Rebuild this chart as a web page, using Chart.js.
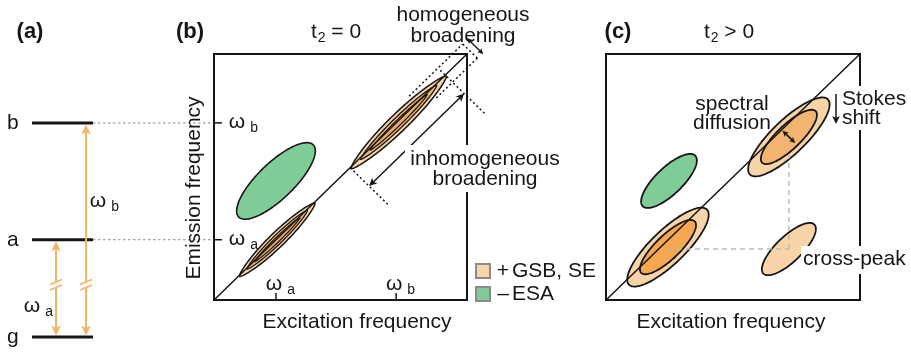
<!DOCTYPE html>
<html>
<head>
<meta charset="utf-8">
<script src="https://cdn.jsdelivr.net/npm/chart.js@4.4.1/dist/chart.umd.min.js"></script>
<style>
  html, body { margin: 0; background: #fff; }
  #wrap { position: relative; width: 911px; height: 352px; }
  #wrap canvas { position: absolute; left: 0; top: 0; }
</style>
</head>
<body>
<div id="wrap">
  <canvas id="levels" width="911" height="352"></canvas>
  <canvas id="spec0" width="911" height="352"></canvas>
  <canvas id="spec1" width="911" height="352"></canvas>
</div>
<script>
// ---- data ----
const levelNames = ['g', 'a', 'b'];
const levelEnergy = [0, 1.0, 2.2];
const transitions = ['a', 'b'];            // g -> a, g -> b

const freqNames = ['a', 'b'];              // ω_a, ω_b on both frequency axes
const freqValues = [0.245, 0.72];
const diagonal = [0, 1];

// (b) t2 = 0 : centre (excitation, emission), inhomogeneous and homogeneous half widths
const excB = [0.25, 0.73, 0.245];
const emiB = [0.245, 0.722, 0.484];
const inhomB = [0.149, 0.188, 0.147];
const homB = [0.021, 0.025, 0.051];
const signB = [1, 1, -1];

// (c) t2 > 0
const excC = [0.244, 0.72, 0.248, 0.72];
const emiC = [0.215, 0.663, 0.484, 0.207];
const inhomC = [0.153, 0.153, 0.103, 0.1];
const homC = [0.048, 0.048, 0.038, 0.036];
const coreInhomC = [0.105, 0.105, 0, 0];
const coreHomC = [0.034, 0.034, 0, 0];
const signC = [1, 1, -1, 1];

// ---- styling ----
const FONT = '"Liberation Sans", Arial, Helvetica, sans-serif';
const INK = '#161616';
const LIGHT = '#f8d4a8', MID = '#f2b679', MID2 = '#efab62', DARK = '#f6a751', DARK2 = '#f2b470';
const GREEN = '#80cc97', ARROW = '#f5b366';

function txt(ctx, s, x, y, size, align, weight) {
  ctx.font = (weight || 'normal') + ' ' + size + 'px ' + FONT;
  ctx.textAlign = align || 'center';
  ctx.textBaseline = 'alphabetic';
  ctx.fillStyle = INK;
  ctx.fillText(s, x, y);
}

// ω with a subscript, x = centre of the ω glyph, y = baseline
function omega(ctx, sub, x, y) {
  txt(ctx, 'ω', x, y, 21, 'center');
  const w = ctx.measureText('ω').width;
  txt(ctx, sub, x + w / 2 + 5, y + 4, 14, 'left');
}

// t₂ followed by rest, centred on x
function tTwo(ctx, rest, x, y) {
  ctx.font = '21px ' + FONT;
  const w1 = ctx.measureText('t').width, w3 = ctx.measureText(rest).width;
  ctx.font = '14px ' + FONT;
  const w2 = ctx.measureText('2').width;
  let left = x - (w1 + w2 + 1 + w3) / 2;
  txt(ctx, 't', left, y, 21, 'left');
  txt(ctx, '2', left + w1 + 1, y + 4, 14, 'left');
  txt(ctx, rest, left + w1 + w2 + 1, y, 21, 'left');
}

function seg(ctx, a, b, lw, color, dash) {
  ctx.save();
  ctx.strokeStyle = color; ctx.lineWidth = lw; ctx.setLineDash(dash || []);
  ctx.beginPath(); ctx.moveTo(a[0], a[1]); ctx.lineTo(b[0], b[1]); ctx.stroke();
  ctx.restore();
}

function head(ctx, tip, ang, h, hw) {
  const c = Math.cos(ang), s = Math.sin(ang);
  ctx.beginPath();
  ctx.moveTo(tip[0], tip[1]);
  ctx.lineTo(tip[0] - h * c - hw * s, tip[1] - h * s + hw * c);
  ctx.lineTo(tip[0] - h * 0.75 * c, tip[1] - h * 0.75 * s);
  ctx.lineTo(tip[0] - h * c + hw * s, tip[1] - h * s - hw * c);
  ctx.closePath();
  ctx.fill();
}

function arrow(ctx, a, b, color, lw, h, both) {
  const ang = Math.atan2(b[1] - a[1], b[0] - a[0]);
  const c = Math.cos(ang), s = Math.sin(ang);
  const a2 = both ? [a[0] + c * h * 0.7, a[1] + s * h * 0.7] : a;
  const b2 = [b[0] - c * h * 0.7, b[1] - s * h * 0.7];
  seg(ctx, a2, b2, lw, color);
  ctx.save();
  ctx.fillStyle = color;
  head(ctx, b, ang, h, h * 0.48);
  if (both) head(ctx, a, ang + Math.PI, h, h * 0.48);
  ctx.restore();
}

// peak contour: centre on the data scales, long axis along the diagonal
function peakPath(ctx, sx, sy, cx, cy, len, wid, point) {
  const px = sx.getPixelForValue(cx), py = sy.getPixelForValue(cy);
  const ux = sx.getPixelForValue(cx + len) - px, uy = sy.getPixelForValue(cy + len) - py;
  const vx = sx.getPixelForValue(cx - wid) - px, vy = sy.getPixelForValue(cy + wid) - py;
  ctx.beginPath();
  for (let k = 0; k <= 160; k++) {
    const t = k / 160 * 2 * Math.PI;
    const sn = Math.sin(t) * Math.pow(Math.abs(Math.sin(t)), point || 0);
    const X = px + ux * Math.cos(t) + vx * sn;
    const Y = py + uy * Math.cos(t) + vy * sn;
    if (k) ctx.lineTo(X, Y); else ctx.moveTo(X, Y);
  }
  ctx.closePath();
}

function fillPeak(ctx, sx, sy, cx, cy, len, wid, fill, lw, point) {
  peakPath(ctx, sx, sy, cx, cy, len, wid, point);
  if (fill) { ctx.fillStyle = fill; ctx.fill(); }
  ctx.lineWidth = lw; ctx.strokeStyle = INK; ctx.setLineDash([]); ctx.stroke();
}

function whiteBox(ctx, x, y, w, h) {
  ctx.fillStyle = '#fff';
  ctx.fillRect(x, y, w, h);
}

function baseOptions(pad, xr, yr) {
  return {
    responsive: false,
    animation: false,
    events: [],
    layout: { padding: pad },
    plugins: { legend: { display: false }, tooltip: { enabled: false } },
    scales: {
      x: { type: 'linear', min: xr[0], max: xr[1], display: false },
      y: { type: 'linear', min: yr[0], max: yr[1], display: false }
    }
  };
}

// ---- (a) energy levels ----
const LEVEL_END = 0.335;
const ARROW_X = [0.132, 0.297];
const levelSets = levelEnergy.map(E => ({
  data: [{ x: 0, y: E }, { x: LEVEL_END, y: E }],
  showLine: true, borderColor: INK, borderWidth: 3, pointRadius: 0, clip: false
}));
levelEnergy.forEach((E, i) => {
  if (i === 0) return;
  levelSets.push({
    data: [{ x: LEVEL_END, y: E }, { x: 1, y: E }],
    showLine: true, borderColor: '#8c8c8c', borderWidth: 1, borderDash: [2.5, 2.5],
    pointRadius: 0, clip: false
  });
});

const levelsPlugin = {
  id: 'levelsPlugin',
  afterDatasetsDraw(chart) {
    const { ctx, scales: { x, y } } = chart;
    txt(ctx, '(a)', 30, 38, 22, 'center', 'bold');
    levelNames.forEach((n, i) => {
      txt(ctx, n, x.getPixelForValue(-0.105), y.getPixelForValue(levelEnergy[i]) + 6, 21, 'center');
    });
    const breakE = 0.535;
    transitions.forEach((t, i) => {
      const E = levelEnergy[levelNames.indexOf(t)];
      const px = x.getPixelForValue(ARROW_X[i]);
      const top = y.getPixelForValue(E) + 1.5, bot = y.getPixelForValue(0) - 1.5;
      arrow(ctx, [px, bot], [px, top], ARROW, 2, 10, true);
      const by = y.getPixelForValue(breakE);
      whiteBox(ctx, px - 3, by - 3, 6, 6);
      seg(ctx, [px - 6, by - 0.5], [px + 6, by - 5.5], 1.6, ARROW);
      seg(ctx, [px - 6, by + 5], [px + 6, by], 1.6, ARROW);
    });
    omega(ctx, 'b', x.getPixelForValue(0.363), y.getPixelForValue(1.336));
    omega(ctx, 'a', x.getPixelForValue(0.0), y.getPixelForValue(0.257));
  }
};

new Chart(document.getElementById('levels'), {
  type: 'scatter',
  data: { datasets: levelSets },
  options: baseOptions({ left: 32, top: 123, right: 697, bottom: 15 }, [0, 1], [0, levelEnergy[2]]),
  plugins: [levelsPlugin]
});

// ---- shared 2D spectrum pieces ----
function diagSet() {
  return [{
    data: diagonal.map(v => ({ x: v, y: v })),
    showLine: true, borderColor: INK, borderWidth: 1.5, pointRadius: 0
  }];
}

function drawBox(chart) {
  const { ctx, chartArea: a } = chart;
  ctx.save();
  ctx.strokeStyle = INK; ctx.lineWidth = 2; ctx.setLineDash([]);
  ctx.strokeRect(a.left, a.top, a.right - a.left, a.bottom - a.top);
  ctx.restore();
}

// ---- (b) t2 = 0 ----
const specB = {
  id: 'specB',
  beforeDatasetsDraw(chart) {
    const { ctx, scales: { x, y } } = chart;
    ctx.save();
    excB.forEach((cx, i) => {
      const cy = emiB[i], L = inhomB[i], W = homB[i];
      if (signB[i] < 0) {
        fillPeak(ctx, x, y, cx, cy, L, W, GREEN, 1.6, 0);
      } else {
        fillPeak(ctx, x, y, cx, cy, L, W, LIGHT, 1.5, 0.35);
        fillPeak(ctx, x, y, cx, cy, L * 0.8, W * 0.62, MID, 1.3, 0.35);
        fillPeak(ctx, x, y, cx, cy, L * 0.6, W * 0.32, MID2, 1.2, 0.35);
      }
    });
    ctx.restore();
  },
  afterDatasetsDraw(chart) {
    const { ctx, chartArea: a, scales: { x, y } } = chart;
    const P = (u, v) => [x.getPixelForValue(u), y.getPixelForValue(v)];
    const D = (s, p) => P(s - p, s + p);
    drawBox(chart);

    // frequency ticks
    freqNames.forEach((n, i) => {
      const px = x.getPixelForValue(freqValues[i]);
      seg(ctx, [px, a.bottom], [px, a.bottom - 7], 1.5, INK);
      omega(ctx, n, px - 2, a.bottom - 10);
      const py = y.getPixelForValue(freqValues[i]);
      seg(ctx, [a.left, py], [a.left + 8, py], 1.5, INK);
      omega(ctx, n, a.left + 23, py + 5);
    });

    // inhomogeneous broadening of the upper diagonal peak
    const sc = (excB[1] + emiB[1]) / 2;
    const sLo = sc - inhomB[1], sHi = sc + inhomB[1];
    const dots = [2, 2.6];
    seg(ctx, D(sHi, 0.02), D(sHi, -0.155), 1.5, INK, dots);
    seg(ctx, D(sLo, 0), D(sLo, -0.155), 1.5, INK, dots);
    arrow(ctx, D(sLo, -0.075), D(sHi, -0.075), INK, 1.5, 8, true);

    // homogeneous broadening
    const hw = homB[1] * 1.15;
    seg(ctx, D(0.80, hw), D(1.012, hw), 1.5, INK, dots);
    seg(ctx, D(0.85, -hw), D(1.012, -hw), 1.5, INK, dots);
    seg(ctx, D(1.012, hw), D(1.012, -hw), 1.5, INK, dots);
    arrow(ctx, D(1.032, hw + 0.004), D(1.032, -hw - 0.004), INK, 1.4, 6, true);

    txt(ctx, 'homogeneous', 463, 21, 21);
    txt(ctx, 'broadening', 463, 42, 21);

    whiteBox(ctx, 405, 145, 160, 47);
    txt(ctx, 'inhomogeneous', 485, 165, 21);
    txt(ctx, 'broadening', 485, 185, 21);

    // titles
    txt(ctx, '(b)', 190, 38, 22, 'center', 'bold');
    tTwo(ctx, ' = 0', 336, 38);
    txt(ctx, 'Excitation frequency', 357, 328, 21);
    ctx.save();
    ctx.translate(200, 188);
    ctx.rotate(-Math.PI / 2);
    txt(ctx, 'Emission frequency', 0, 0, 21);
    ctx.restore();

    // legend
    const lx = a.right + 9;
    [[LIGHT, '+', 'GSB, SE', 264], [GREEN, '–', 'ESA', 287]].forEach(r => {
      ctx.fillStyle = r[0];
      ctx.fillRect(lx, r[3], 14, 14);
      ctx.strokeStyle = '#8a8a8a'; ctx.lineWidth = 2;
      ctx.strokeRect(lx, r[3], 14, 14);
      txt(ctx, r[1], lx + 27, r[3] + 13, 21);
      txt(ctx, r[2], lx + 36, r[3] + 13, 21, 'left');
    });
  }
};

new Chart(document.getElementById('spec0'), {
  type: 'scatter',
  data: { datasets: diagSet() },
  options: baseOptions({ left: 214, top: 54, right: 444, bottom: 52 }, [0, 1], [0, 1]),
  plugins: [specB]
});

// ---- (c) t2 > 0 ----
const specC = {
  id: 'specC',
  beforeDatasetsDraw(chart) {
    const { ctx, scales: { x, y } } = chart;
    ctx.save();
    excC.forEach((cx, i) => {
      const cy = emiC[i];
      if (signC[i] < 0) {
        fillPeak(ctx, x, y, cx, cy, inhomC[i], homC[i], GREEN, 1.8, 0);
        return;
      }
      fillPeak(ctx, x, y, cx, cy, inhomC[i], homC[i], LIGHT, 1.8, 0);
      if (coreInhomC[i] > 0) {
        fillPeak(ctx, x, y, cx, cy, coreInhomC[i], coreHomC[i], i === 0 ? DARK : DARK2, 1.8, 0);
      }
    });
    ctx.restore();
  },
  afterDatasetsDraw(chart) {
    const { ctx, chartArea: a, scales: { x, y } } = chart;
    const P = (u, v) => [x.getPixelForValue(u), y.getPixelForValue(v)];
    drawBox(chart);

    // cross-peak guide
    const g1 = P(excC[0], emiC[3]), g2 = P(excC[3], emiC[3]), g3 = P(excC[3], emiC[1] - 2 * coreHomC[1]);
    seg(ctx, g1, g2, 1.5, '#b9b9b9', [5, 4]);
    seg(ctx, g2, g3, 1.5, '#b9b9b9', [5, 4]);

    // spectral diffusion
    const d = 0.025;
    arrow(ctx, P(excC[1] - d, emiC[1] + d), P(excC[1] + d, emiC[1] - d), INK, 1.6, 6, true);
    txt(ctx, 'spectral', 732, 110, 21);
    txt(ctx, 'diffusion', 732, 129, 21);

    // Stokes shift
    whiteBox(ctx, 840, 86, 70, 44);
    arrow(ctx, [836, 94], [836, 124], INK, 1.5, 8, false);
    txt(ctx, 'Stokes', 842, 105, 21, 'left');
    txt(ctx, 'shift', 842, 124, 21, 'left');

    whiteBox(ctx, 801, 246, 108, 28);
    txt(ctx, 'cross-peak', 803, 265, 21, 'left');

    txt(ctx, '(c)', 618, 38, 22, 'center', 'bold');
    tTwo(ctx, ' > 0', 729, 38);
    txt(ctx, 'Excitation frequency', 731, 328, 21);
  }
};

new Chart(document.getElementById('spec1'), {
  type: 'scatter',
  data: { datasets: diagSet() },
  options: baseOptions({ left: 606, top: 54, right: 51, bottom: 52 }, [0, 1], [0, 1]),
  plugins: [specC]
});
</script>
</body>
</html>
